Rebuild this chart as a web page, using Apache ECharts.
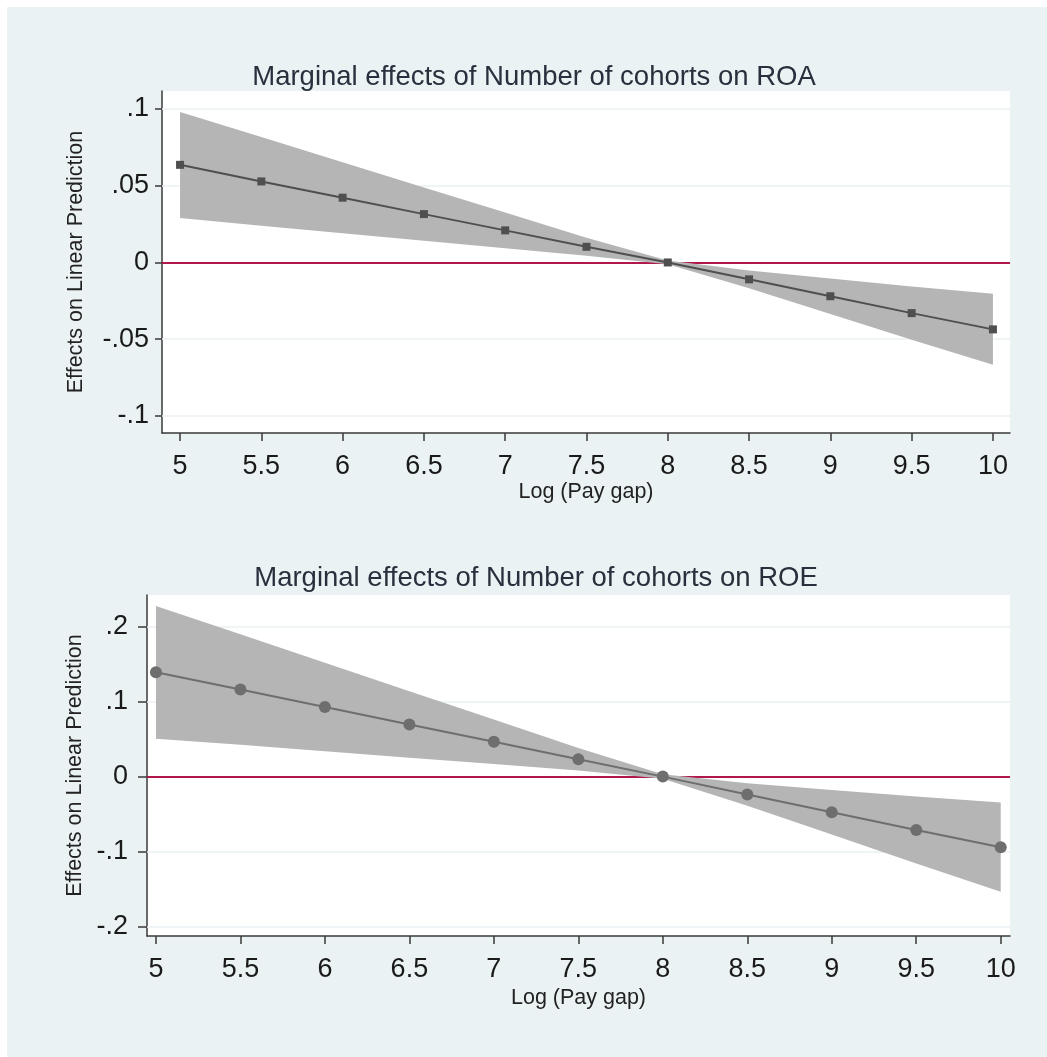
<!DOCTYPE html>
<html>
<head>
<meta charset="utf-8">
<script src="https://cdn.jsdelivr.net/npm/echarts@6/dist/echarts.min.js"></script>
<style>
html,body{margin:0;padding:0;background:#fff;}
#chart{width:1047px;height:1057px;}
</style>
</head>
<body>
<div id="chart"></div>
<script>
// ---- data ----
const xValues = [5, 5.5, 6, 6.5, 7, 7.5, 8, 8.5, 9, 9.5, 10];

const roaEst   = [0.0636, 0.0528, 0.0422, 0.0315, 0.0209, 0.0102, 0.0000, -0.0110, -0.0220, -0.0330, -0.0436];
const roaUpper = [0.0980, 0.0817, 0.0653, 0.0489, 0.0325, 0.0161, 0.0012, -0.0052, -0.0104, -0.0156, -0.0204];
const roaLower = [0.0290, 0.0239, 0.0191, 0.0141, 0.0093, 0.0043, -0.0012, -0.0168, -0.0336, -0.0504, -0.0667];

const roeEst   = [0.1390, 0.1160, 0.0927, 0.0695, 0.0464, 0.0232, 0.0000, -0.0238, -0.0475, -0.0712, -0.0940];
const roeUpper = [0.2273, 0.1897, 0.1517, 0.1138, 0.0760, 0.0382, 0.0030, -0.0088, -0.0177, -0.0265, -0.0344];
const roeLower = [0.0503, 0.0423, 0.0337, 0.0252, 0.0168, 0.0082, -0.0030, -0.0388, -0.0773, -0.1159, -0.1536];

const xTicks    = [5, 5.5, 6, 6.5, 7, 7.5, 8, 8.5, 9, 9.5, 10];
const yTicksROA = [-0.1, -0.05, 0, 0.05, 0.1];
const yTicksROE = [-0.2, -0.1, 0, 0.1, 0.2];

const titleROA = 'Marginal effects of Number of cohorts on ROA';
const titleROE = 'Marginal effects of Number of cohorts on ROE';
const yTitle = 'Effects on Linear Prediction';
const xTitle = 'Log (Pay gap)';

// ---- styling ----
const FONT = 'Liberation Sans, Arial, sans-serif';
const BG = '#eaf2f3';
const AXIS = '#3a3a3a';
const REF = '#b0184a';

function stataFmt(v) {
  if (Math.abs(v) < 1e-12) return '0';
  let s = String(Math.round(v * 1000) / 1000);
  return s.replace(/^(-?)0\./, '$1.');
}

function pairs(xs, ys) { return xs.map((x, i) => [x, ys[i]]); }

function bandSeries(idx, lower, upper) {
  return {
    type: 'custom',
    xAxisIndex: idx, yAxisIndex: idx,
    z: 3, silent: true, clip: true,
    data: xValues.map((x, i) => [x, lower[i], upper[i]]),
    encode: { x: 0, y: [1, 2] },
    renderItem: function (params, api) {
      if (params.dataIndex !== 0) return null;
      const pts = [];
      for (let i = 0; i < xValues.length; i++) pts.push(api.coord([xValues[i], upper[i]]));
      for (let i = xValues.length - 1; i >= 0; i--) pts.push(api.coord([xValues[i], lower[i]]));
      return { type: 'polygon', shape: { points: pts }, style: { fill: '#b5b5b5', stroke: null } };
    }
  };
}

function refSeries(idx, ticks) {
  const lines = ticks.filter(t => t !== 0).map(t => ({ yAxis: t, lineStyle: { color: BG, width: 1.5, type: 'solid' } }));
  lines.push({ yAxis: 0, lineStyle: { color: REF, width: 2, type: 'solid' } });
  return {
    type: 'line', xAxisIndex: idx, yAxisIndex: idx, data: [], z: 2, silent: true,
    markLine: { silent: true, z: 2, symbol: 'none', label: { show: false }, animation: false, data: lines }
  };
}

function estSeries(idx, est, symbol, size, color) {
  return {
    type: 'line', xAxisIndex: idx, yAxisIndex: idx, z: 5,
    data: pairs(xValues, est),
    symbol: symbol, symbolSize: size, showSymbol: true,
    lineStyle: { color: color, width: 2 },
    itemStyle: { color: color, borderWidth: 0 },
    emphasis: { disabled: true }
  };
}

function xAxisCfg(idx, min, max, gap) {
  return {
    type: 'value', gridIndex: idx, min: min, max: max,
    name: xTitle, nameLocation: 'middle', nameGap: gap,
    nameTextStyle: { fontFamily: FONT, fontSize: 21.5, color: '#222' },
    axisLine: { show: true, onZero: false, lineStyle: { color: AXIS, width: 1.5 } },
    axisTick: { show: true, length: 8, customValues: xTicks, lineStyle: { color: AXIS, width: 1.5 } },
    axisLabel: { customValues: xTicks, formatter: v => String(v), fontFamily: FONT, fontSize: 27, color: '#1a1a1a', margin: 20 },
    splitLine: { show: false }
  };
}

function yAxisCfg(idx, min, max, ticks, gap, margin, tickLen) {
  return {
    type: 'value', gridIndex: idx, min: min, max: max,
    name: yTitle, nameLocation: 'middle', nameGap: gap,
    nameTextStyle: { fontFamily: FONT, fontSize: 21.5, color: '#222' },
    axisLine: { show: true, onZero: false, lineStyle: { color: AXIS, width: 1.5 } },
    axisTick: { show: true, length: tickLen, customValues: ticks, lineStyle: { color: AXIS, width: 1.5 } },
    axisLabel: { customValues: ticks, formatter: stataFmt, fontFamily: FONT, fontSize: 27, color: '#1a1a1a', margin: margin },
    splitLine: { show: false }
  };
}

const chart = echarts.init(document.getElementById('chart'), null, { renderer: 'canvas' });
chart.setOption({
  animation: false,
  backgroundColor: '#ffffff',
  graphic: [
    { type: 'rect', z: -100, silent: true, shape: { x: 7, y: 7, width: 1040, height: 1050 }, style: { fill: BG } },
    { type: 'text', x: 534, y: 77, z: 10, silent: true, style: { text: titleROA, align: 'center', verticalAlign: 'middle', font: '27.5px ' + FONT, fill: '#27303c' } },
    { type: 'text', x: 536, y: 578, z: 10, silent: true, style: { text: titleROE, align: 'center', verticalAlign: 'middle', font: '27.5px ' + FONT, fill: '#27303c' } }
  ],
  grid: [
    { left: 162, right: 37, top: 91, height: 342, show: true, backgroundColor: '#ffffff', borderWidth: 0, containLabel: false },
    { left: 147, right: 37, top: 595, height: 341, show: true, backgroundColor: '#ffffff', borderWidth: 0, containLabel: false }
  ],
  xAxis: [
    xAxisCfg(0, 4.889, 10.105, 47),
    xAxisCfg(1, 4.947, 10.055, 51)
  ],
  yAxis: [
    yAxisCfg(0, -0.1111, 0.1117, yTicksROA, 75, 13, 7),
    yAxisCfg(1, -0.2124, 0.242, yTicksROE, 60, 19, 9)
  ],
  series: [
    refSeries(0, yTicksROA),
    bandSeries(0, roaLower, roaUpper),
    estSeries(0, roaEst, 'rect', 8, '#4f4f4f'),
    refSeries(1, yTicksROE),
    bandSeries(1, roeLower, roeUpper),
    estSeries(1, roeEst, 'circle', 12, '#6e6e6e')
  ]
});
</script>
</body>
</html>
